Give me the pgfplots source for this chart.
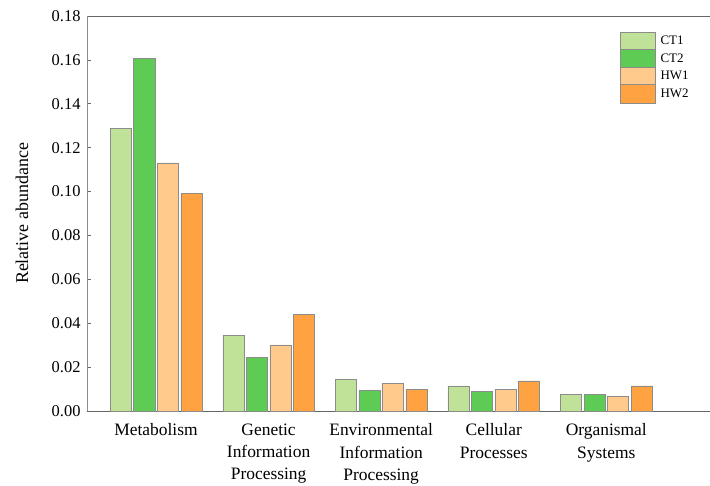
\documentclass[border=0pt]{standalone}
\usepackage{pgfplots}
\pgfplotsset{compat=1.18}
\usepackage{fontspec}
\setmainfont{Liberation Serif}

\definecolor{ctone}{RGB}{192,226,152}
\definecolor{cttwo}{RGB}{94,204,84}
\definecolor{hwone}{RGB}{255,202,140}
\definecolor{hwtwo}{RGB}{255,162,66}

\begin{document}
\begin{tikzpicture}[x=1bp,y=1bp]
% fixed frame around the axis: room for labels on the left and below
\useasboundingbox (-87bp,-75bp) rectangle (623bp,411bp);
\begin{axis}[
  at={(0,0)}, anchor=south west,
  scale only axis,
  width=624bp, height=395bp,
  ybar, bar width=0.187,
  xmin=-0.613, xmax=4.93,
  ymin=0, ymax=0.18,
  ytick={0,0.02,...,0.18},
  yticklabel style={/pgf/number format/fixed,/pgf/number format/fixed zerofill,/pgf/number format/precision=2},
  /pgf/number format/assume math mode=true,
  xtick={0,1,2,3,4},
  xticklabels={Metabolism,Genetic\\Information\\Processing,Environmental\\Information\\Processing,Cellular\\Processes,Organismal\\Systems},
  xticklabel style={align=center, font=\fontsize{17.5}{22.5}\selectfont, yshift=-9bp},
  yticklabel style={font=\fontsize{16.5}{18}\selectfont, xshift=-3bp},
  ylabel={Relative abundance},
  ylabel style={font=\fontsize{18}{20}\selectfont, at={(axis description cs:-0.104,0.5)}, anchor=center},
  axis x line*=box, axis y line*=left,
  x axis line style={-, draw=black!60, line width=0.8pt},
  y axis line style={-, draw=black!45, line width=0.8pt},
  major x tick style={draw=none},
  ytick style={draw=black!60, line width=0.6pt},
  tick align=inside, major tick length=4bp,
  legend style={draw=none, fill=none, at={(0.854,0.961)}, anchor=north west,
    font=\fontsize{13}{15}\selectfont, row sep=-2bp, inner sep=0pt},
  legend image code/.code={\draw[#1] (0bp,-9.5bp) rectangle (35bp,9.5bp); \path (38bp,0bp);},
  legend cell align=left,
  every axis plot/.append style={draw=black!45, line width=0.5pt},
]
\addplot[fill=ctone, bar shift=-0.3135] coordinates {(0,0.1287) (1,0.0346) (2,0.0144) (3,0.0114) (4,0.0077)};
\addplot[fill=cttwo, bar shift=-0.1045] coordinates {(0,0.1608) (1,0.0245) (2,0.0093) (3,0.0091) (4,0.0076)};
\addplot[fill=hwone, bar shift=0.1045] coordinates {(0,0.1131) (1,0.0301) (2,0.0126) (3,0.0099) (4,0.0068)};
\addplot[fill=hwtwo, bar shift=0.3135] coordinates {(0,0.0991) (1,0.0441) (2,0.0099) (3,0.0137) (4,0.0115)};
\legend{CT1,CT2,HW1,HW2}
\end{axis}
\end{tikzpicture}
\end{document}
